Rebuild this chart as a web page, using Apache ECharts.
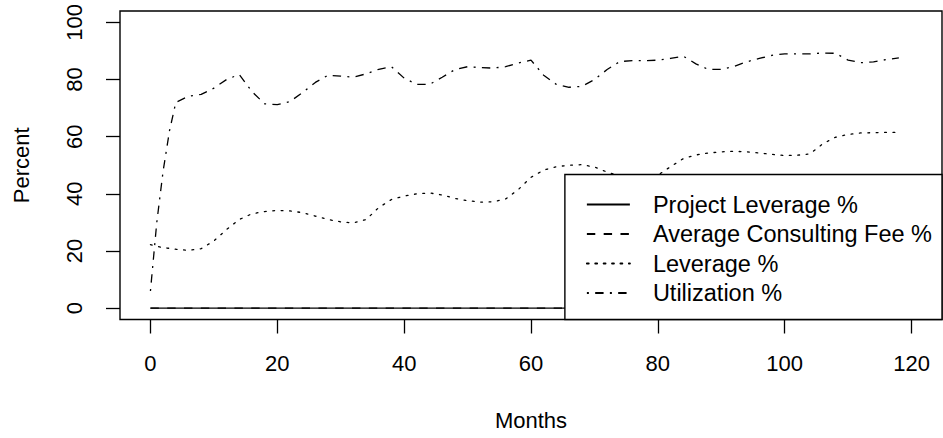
<!DOCTYPE html>
<html>
<head>
    <meta charset="utf-8" />
    <title>Percent by month</title>
    <script src="https://cdn.jsdelivr.net/npm/echarts@6.0.0/dist/echarts.min.js"></script>
    <style type="text/css">
        html, body { margin: 0; padding: 0; background: #fff; }
    </style>
</head>
<body>
    <div id="main" style="width: 943px;height: 438px"></div>
    <script type="text/javascript">

    // values
    var months = [0, 1, 2, 3, 4, 6, 8, 10, 12, 14, 16, 18, 20, 22, 24, 26, 28, 30, 32, 34, 36, 38, 40,
        42, 44, 46, 48, 50, 52, 54, 56, 58, 60, 62, 64, 66, 68, 70, 72, 74, 76, 78, 80,
        82, 84, 86, 88, 90, 92, 94, 96, 98, 100, 102, 104, 106, 108, 110, 112, 114, 116, 118];
    var utilization = [6, 30, 48, 62, 72, 74.2, 74.8, 77, 80, 81.8, 75.8, 71.5, 71.2, 72.3, 75.5, 79, 81.5, 81.2, 80.8, 82, 83.6, 84.5, 80.5,
        78.3, 78.3, 80.8, 83.5, 84.5, 84.2, 84, 84.5, 85.8, 86.8, 81.5, 78.3, 77.3, 77.6, 80, 83.5, 86.3, 86.6, 86.6, 86.8,
        87.4, 88.2, 85.5, 83.5, 83.6, 84.6, 86.2, 87.4, 88.5, 89, 89, 89, 89.3, 89.2, 86.8, 85.9, 86.2, 87, 87.6];
    var leverage = [22.2, 21.6, 21.2, 20.9, 20.6, 20.2, 20.8, 23.5, 27.5, 31, 33, 33.8, 34.2, 34, 33.4, 32.2, 31, 30.2, 29.8, 31, 35.2, 38, 39.2,
        40, 40.3, 39.6, 38.4, 37.6, 37.1, 37.2, 38.2, 41.5, 45.8, 48.3, 49.5, 50, 50.2, 49.4, 47.6, 46.2, 45.5, 45.6, 46.5,
        49.5, 52.3, 53.6, 54.3, 54.7, 54.9, 54.7, 54.3, 53.8, 53.4, 53.5, 54, 57.5, 59.8, 60.8, 61.3, 61.4, 61.5, 61.5];
    var flatMonths = [0, 118];
    var projectLeverage = [0, 0];
    var consultingFee = [0, 0];

    var seriesNames = ['Project Leverage %', 'Average Consulting Fee %', 'Leverage %', 'Utilization %'];
    var xTicks = [0, 20, 40, 60, 80, 100, 120];
    var yTicks = [0, 20, 40, 60, 80, 100];

    function pairs(xs, ys) {
        var out = [];
        for (var i = 0; i < xs.length; i++) {
            out.push([xs[i], ys[i]]);
        }
        return out;
    }

    var font = "'Liberation Sans', Arial, Helvetica, sans-serif";
    var lw = 1.3;

    var myChart = echarts.init(document.getElementById('main'), null, {renderer: 'svg'});

    var option = {
        backgroundColor: '#fff',
        animation: false,
        textStyle: {fontFamily: font, color: '#000'},
        grid: {
            left: 120, right: 1, top: 11, bottom: 118.5,
            show: true, borderColor: '#000', borderWidth: 1.4,
            backgroundColor: 'transparent'
        },
        legend: {
            orient: 'vertical',
            right: 1,
            bottom: 118.5,
            backgroundColor: '#fff',
            borderColor: '#000',
            borderWidth: 1.4,
            borderRadius: 0,
            padding: [18, 10, 14.5, 21],
            itemWidth: 43,
            itemHeight: 14,
            itemGap: 5.5,
            selectedMode: false,
            // hide the marker that the line icon gets by default
            itemStyle: {color: 'transparent', borderColor: 'transparent', borderWidth: 0},
            textStyle: {fontSize: 23.5, lineHeight: 23.5, color: '#000', fontFamily: font, padding: [0, 0, 0, 18]},
            data: seriesNames
        },
        xAxis: {
            type: 'value',
            min: -4.8,
            max: 124.8,
            name: 'Months',
            nameLocation: 'middle',
            nameGap: 90,
            nameTextStyle: {fontSize: 22, color: '#000', fontFamily: font},
            axisLine: {show: false, onZero: false},
            splitLine: {show: false},
            axisTick: {show: true, length: 14, customValues: xTicks, lineStyle: {color: '#000', width: 1.3}},
            axisLabel: {customValues: xTicks, margin: 33, fontSize: 22, color: '#000', fontFamily: font}
        },
        yAxis: {
            type: 'value',
            min: -4,
            max: 104,
            name: 'Percent',
            nameLocation: 'middle',
            nameRotate: 90,
            nameGap: 88,
            nameTextStyle: {fontSize: 22, color: '#000', fontFamily: font},
            axisLine: {show: false, onZero: false},
            splitLine: {show: false},
            axisTick: {show: true, length: 14, customValues: yTicks, lineStyle: {color: '#000', width: 1.3}},
            axisLabel: {customValues: yTicks, rotate: 90, margin: 34.5, fontSize: 22, color: '#000', fontFamily: font}
        },
        series: [
            {
                name: seriesNames[0],
                type: 'line',
                symbol: 'none',
                lineStyle: {color: '#000', width: lw, type: 'solid'},
                itemStyle: {color: '#000'},
                data: pairs(flatMonths, projectLeverage)
            },
            {
                name: seriesNames[1],
                type: 'line',
                symbol: 'none',
                lineStyle: {color: '#000', width: lw, type: [8.4, 8.4]},
                itemStyle: {color: '#000'},
                data: pairs(flatMonths, consultingFee)
            },
            {
                name: seriesNames[2],
                type: 'line',
                symbol: 'none',
                lineStyle: {color: '#000', width: lw, type: [1.8, 6.6], cap: 'round'},
                itemStyle: {color: '#000'},
                data: pairs(months, leverage)
            },
            {
                name: seriesNames[3],
                type: 'line',
                symbol: 'none',
                lineStyle: {color: '#000', width: lw, type: [2, 6.3, 8.4, 6.3]},
                itemStyle: {color: '#000'},
                data: pairs(months, utilization)
            }
        ]
    };

    myChart.setOption(option);

    </script>
</body>
</html>
